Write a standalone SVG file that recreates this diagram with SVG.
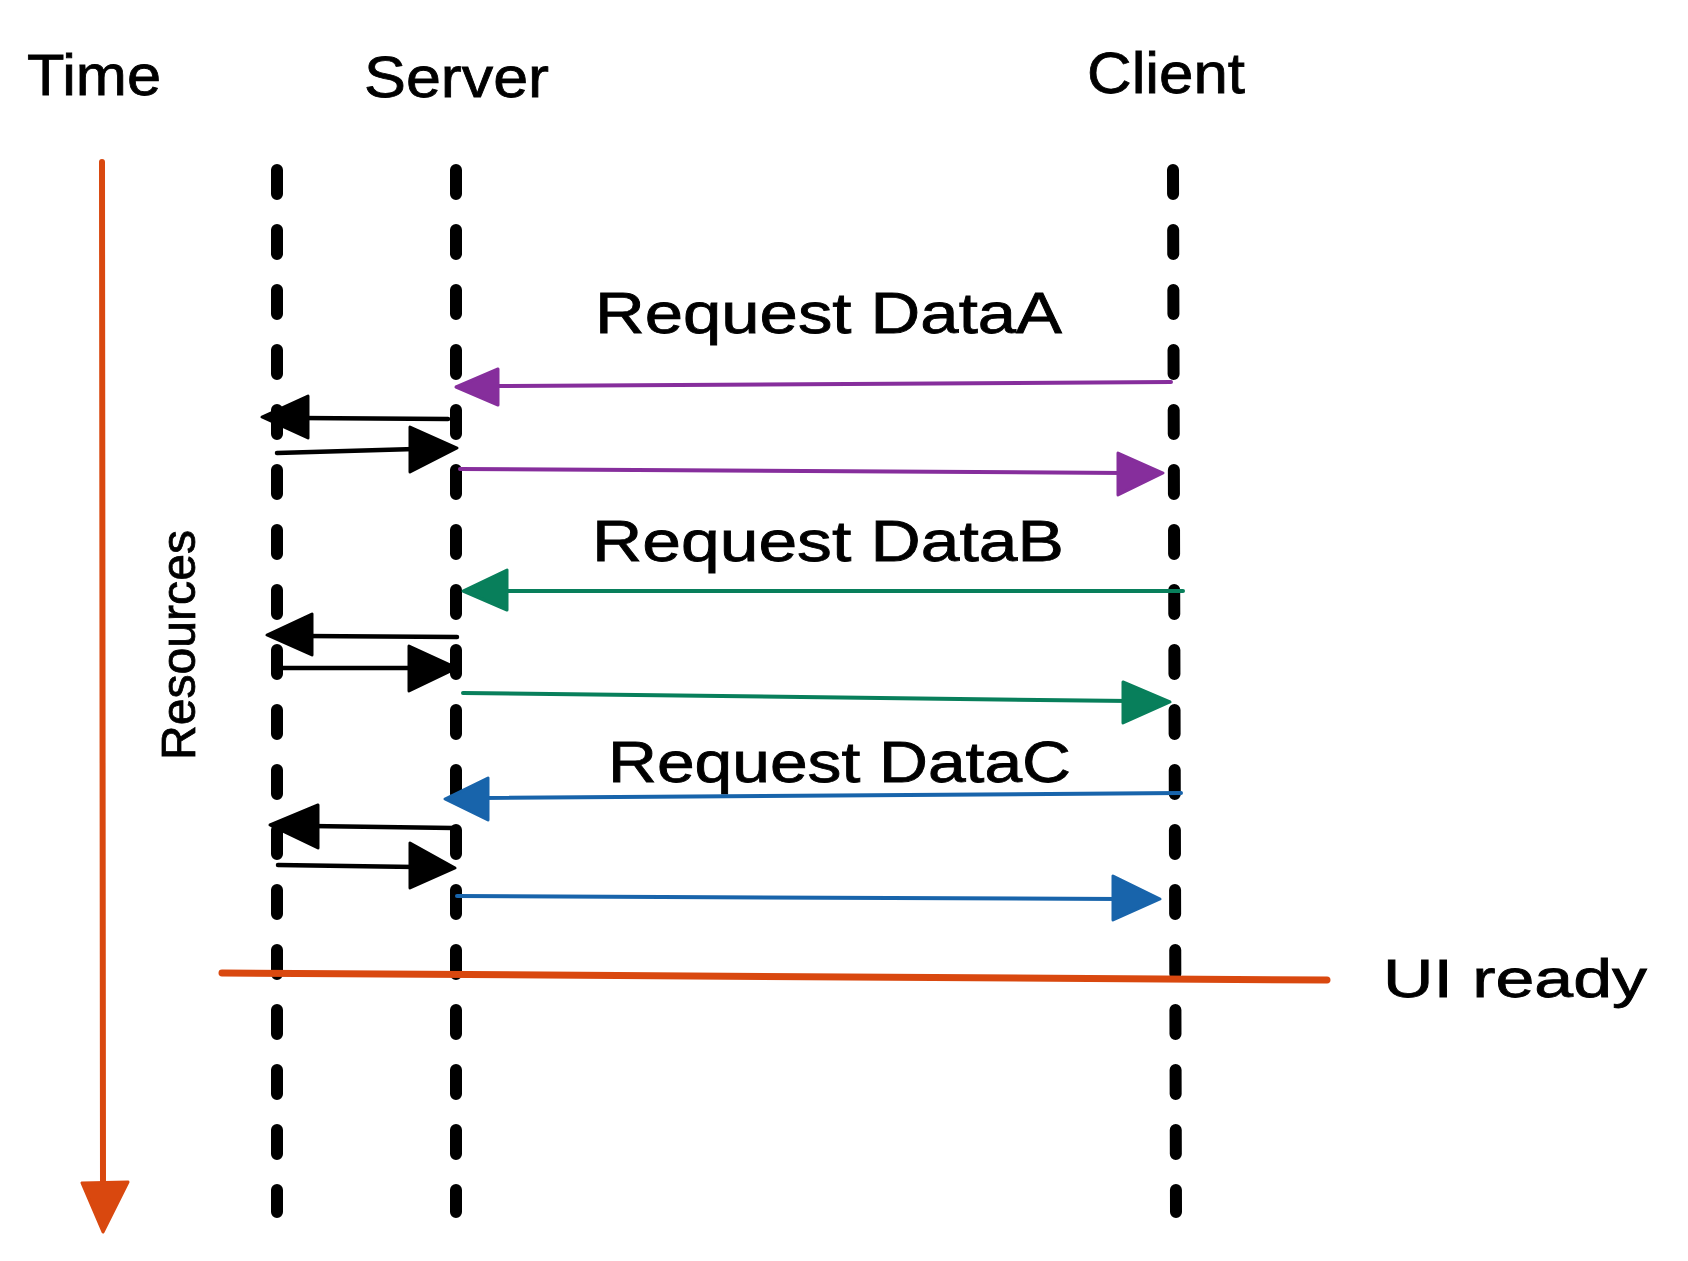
<svg xmlns="http://www.w3.org/2000/svg" width="1688" height="1261" viewBox="0 0 1688 1261">
  <style>
    .lbl { font-family: "Liberation Sans", Arial, sans-serif; fill: #000; stroke: #000; stroke-width: 0.8; }
    .life { stroke: #000; stroke-width: 12; stroke-linecap: round; stroke-dasharray: 24 36; fill: none; }
    .ln { fill: none; stroke-width: 4; stroke-linecap: round; }
    .k { stroke: #000; stroke-width: 4.5; } .kf { fill: #000; stroke: #000; }
    .p { stroke: #862e9c; } .pf { fill: #862e9c; stroke: #862e9c; }
    .g { stroke: #087f5b; } .gf { fill: #087f5b; stroke: #087f5b; }
    .b { stroke: #1864ab; } .bf { fill: #1864ab; stroke: #1864ab; }
    .o { stroke: #d9480f; } .of { fill: #d9480f; stroke: #d9480f; }
    .axis { stroke-width: 6; }
    .ready { stroke-width: 7; }
    .head { stroke-width: 3; stroke-linejoin: round; }
  </style>
  <rect width="1688" height="1261" fill="#ffffff"/>

  <g id="time-label"><text class="lbl" x="27" y="95" font-size="58" textLength="134" lengthAdjust="spacingAndGlyphs">Time</text></g>
  <g id="server-label"><text class="lbl" x="364" y="97" font-size="58" textLength="185" lengthAdjust="spacingAndGlyphs">Server</text></g>
  <g id="client-label"><text class="lbl" x="1087" y="93" font-size="58" textLength="158" lengthAdjust="spacingAndGlyphs">Client</text></g>

  <g id="resources-lifeline"><line class="life" x1="277" y1="170" x2="277" y2="1212"/></g>
  <g id="server-lifeline"><line class="life" x1="456" y1="170" x2="456" y2="1212"/></g>
  <g id="client-lifeline"><line class="life" x1="1173" y1="170" x2="1176" y2="1212"/></g>

  <g id="resources-label"><text class="lbl" transform="translate(195,760) rotate(-90)" font-size="49" textLength="230" lengthAdjust="spacingAndGlyphs">Resources</text></g>

  <g id="label-a"><text class="lbl" x="595" y="333" font-size="57" textLength="467" lengthAdjust="spacingAndGlyphs">Request DataA</text></g>
  <g id="label-b"><text class="lbl" x="592" y="561" font-size="57" textLength="472" lengthAdjust="spacingAndGlyphs">Request DataB</text></g>
  <g id="label-c"><text class="lbl" x="608" y="782" font-size="57" textLength="463" lengthAdjust="spacingAndGlyphs">Request DataC</text></g>

  <g id="ui-ready-label"><text class="lbl" x="1383" y="997" font-size="54" textLength="264" lengthAdjust="spacingAndGlyphs">UI ready</text></g>

  <g id="connectors">
    <!-- time axis -->
    <line class="ln o axis" x1="102" y1="162" x2="103" y2="1190"/>
    <polygon class="of head" points="82,1183 128,1182 103,1232"/>

    <!-- UI ready line -->
    <line class="ln o ready" x1="222" y1="973" x2="1327" y2="980"/>

    <!-- Request A -->
    <line class="ln p" x1="1171" y1="382" x2="490" y2="386"/>
    <polygon class="pf head" points="456,387 498,369 498,405"/>
    <line class="ln k" x1="448" y1="419" x2="300" y2="418"/>
    <polygon class="kf head" points="262,417 308,396 308,438"/>
    <line class="ln k" x1="277" y1="453" x2="415" y2="449"/>
    <polygon class="kf head" points="457,448 410,427 410,472"/>
    <line class="ln p" x1="460" y1="469" x2="1125" y2="473"/>
    <polygon class="pf head" points="1163,473 1118,453 1118,495"/>

    <!-- Request B -->
    <line class="ln g" x1="1183" y1="591" x2="500" y2="591"/>
    <polygon class="gf head" points="463,591 507,570 507,610"/>
    <line class="ln k" x1="457" y1="637" x2="305" y2="636"/>
    <polygon class="kf head" points="267,635 312,614 312,655"/>
    <line class="ln k" x1="278" y1="668" x2="415" y2="668"/>
    <polygon class="kf head" points="457,668 409,646 409,691"/>
    <line class="ln g" x1="463" y1="693" x2="1130" y2="701"/>
    <polygon class="gf head" points="1170,702 1123,682 1123,723"/>

    <!-- Request C -->
    <line class="ln b" x1="1181" y1="793" x2="480" y2="798"/>
    <polygon class="bf head" points="445,799 488,778 488,820"/>
    <line class="ln k" x1="453" y1="828" x2="310" y2="826"/>
    <polygon class="kf head" points="270,825 318,805 318,848"/>
    <line class="ln k" x1="278" y1="865" x2="415" y2="867"/>
    <polygon class="kf head" points="455,868 410,843 410,888"/>
    <line class="ln b" x1="457" y1="896" x2="1120" y2="899"/>
    <polygon class="bf head" points="1160,899 1113,876 1113,920"/>
  </g>
</svg>
